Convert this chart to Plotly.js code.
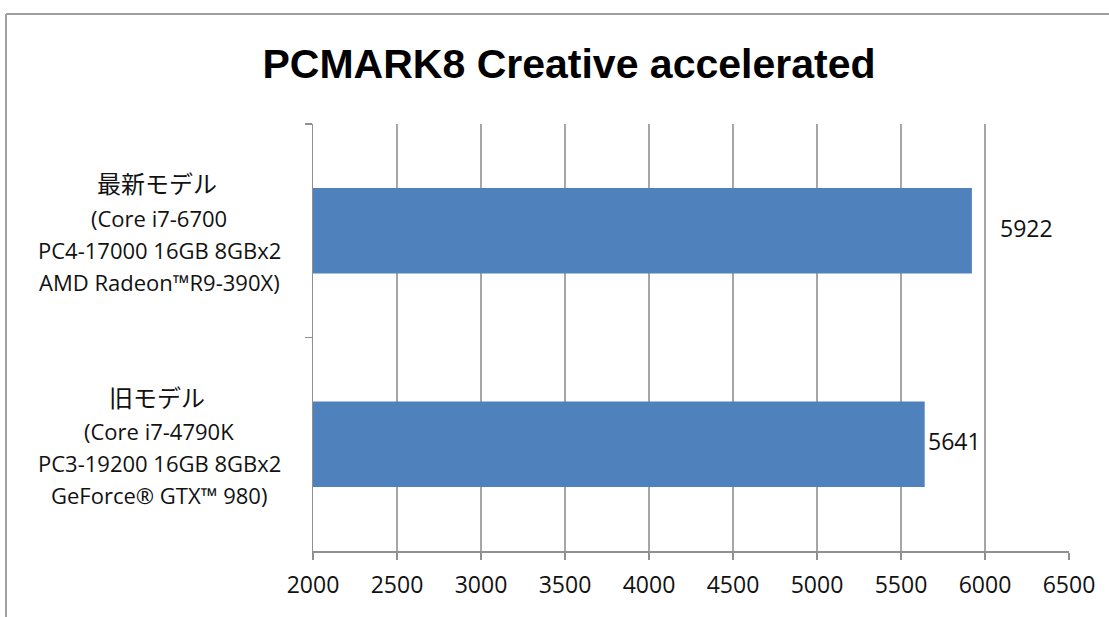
<!DOCTYPE html>
<html>
<head>
<meta charset="utf-8">
<script src="https://cdn.plot.ly/plotly-3.0.1.min.js"></script>
<style>html,body{margin:0;padding:0;background:#fff;}#chart{width:1109px;height:617px;}</style>
</head>
<body>
<div id="chart"></div>
<script>
// Data
const categories = ["最新モデル", "旧モデル"];
const scores = [5922, 5641];
const detailLines = [
  ["(Core i7-6700", "PC4-17000 16GB 8GBx2", "AMD Radeon™R9-390X)"],
  ["(Core i7-4790K", "PC3-19200 16GB 8GBx2", "GeForce® GTX™ 980)"]
];
const xTicks = [2000, 2500, 3000, 3500, 4000, 4500, 5000, 5500, 6000, 6500];
const titleText = "PCMARK8 Creative accelerated";

// Presentation (label placement)
const labelShifts = [26, 1];
const labelCenterPx = 159;

const W = 1109, H = 617;
const M = {l: 313, r: 40, t: 124, b: 66};
const plotW = W - M.l - M.r, plotH = H - M.t - M.b;
const px2paperX = p => (p - M.l) / plotW;
const px2paperY = p => 1 - (p - M.t) / plotH;

const latinFont = "Open Sans, Noto Sans, sans-serif";
const cjkFont = "Noto Sans CJK JP, sans-serif";

const trace = {
  type: "bar",
  orientation: "h",
  x: scores,
  y: categories,
  marker: {color: "#4F81BD"},
  hoverinfo: "none"
};

const annotations = [];
scores.forEach((v, i) => {
  annotations.push({
    x: v, y: categories[i], xref: "x", yref: "y",
    text: String(v), showarrow: false, xanchor: "left", xshift: labelShifts[i], yshift: 3,
    font: {family: latinFont, size: 23, color: "#111"}
  });
});
categories.forEach((c, i) => {
  annotations.push({
    x: px2paperX(labelCenterPx - 2), y: c, xref: "paper", yref: "y", text: c, showarrow: false,
    xanchor: "center", yshift: 48,
    font: {family: cjkFont, size: 24, color: "#111"}
  });
  detailLines[i].forEach((t, j) => {
    annotations.push({
      x: px2paperX(labelCenterPx), y: c, xref: "paper", yref: "y", text: t, showarrow: false,
      xanchor: "center", yshift: 13 - 32 * j,
      font: {family: latinFont, size: 22, color: "#111"}
    });
  });
});

const layout = {
  width: W, height: H,
  margin: M,
  paper_bgcolor: "#fff", plot_bgcolor: "#fff",
  showlegend: false,
  bargap: 0.6,
  title: {
    text: "<b>" + titleText + "</b>",
    x: 569 / W, xanchor: "center", y: 1 - 64 / H, yanchor: "middle",
    font: {family: "Liberation Sans Narrow, Liberation Sans, sans-serif", size: 41, color: "#000"}
  },
  xaxis: {
    range: [2000, 6500],
    tickvals: xTicks,
    ticktext: xTicks.map(String),
    showgrid: true, gridcolor: "#a6a6a6", gridwidth: 1.5,
    showline: true, linecolor: "#909090", linewidth: 1.5,
    ticks: "outside", ticklen: 7, tickcolor: "#909090", tickwidth: 1.5,
    ticklabelstandoff: 6,
    tickfont: {family: latinFont, size: 23, color: "#111"},
    zeroline: false, fixedrange: true
  },
  yaxis: {
    type: "category",
    categoryorder: "array", categoryarray: categories,
    autorange: "reversed",
    showticklabels: false,
    ticks: "outside", tickson: "boundaries", ticklen: 7, tickcolor: "#909090", tickwidth: 1.5,
    showline: true, linecolor: "#909090", linewidth: 1.5,
    showgrid: false, zeroline: false, fixedrange: true
  },
  annotations: annotations,
  shapes: [
    {type: "line", xref: "paper", yref: "paper", x0: px2paperX(6), x1: px2paperX(W + 5), y0: px2paperY(14), y1: px2paperY(14), line: {color: "#a0a0a0", width: 2}},
    {type: "line", xref: "paper", yref: "paper", x0: px2paperX(6), x1: px2paperX(6), y0: px2paperY(14), y1: px2paperY(H + 5), line: {color: "#a0a0a0", width: 2}}
  ]
};

Plotly.newPlot("chart", [trace], layout, {staticPlot: true, displayModeBar: false});
</script>
</body>
</html>
